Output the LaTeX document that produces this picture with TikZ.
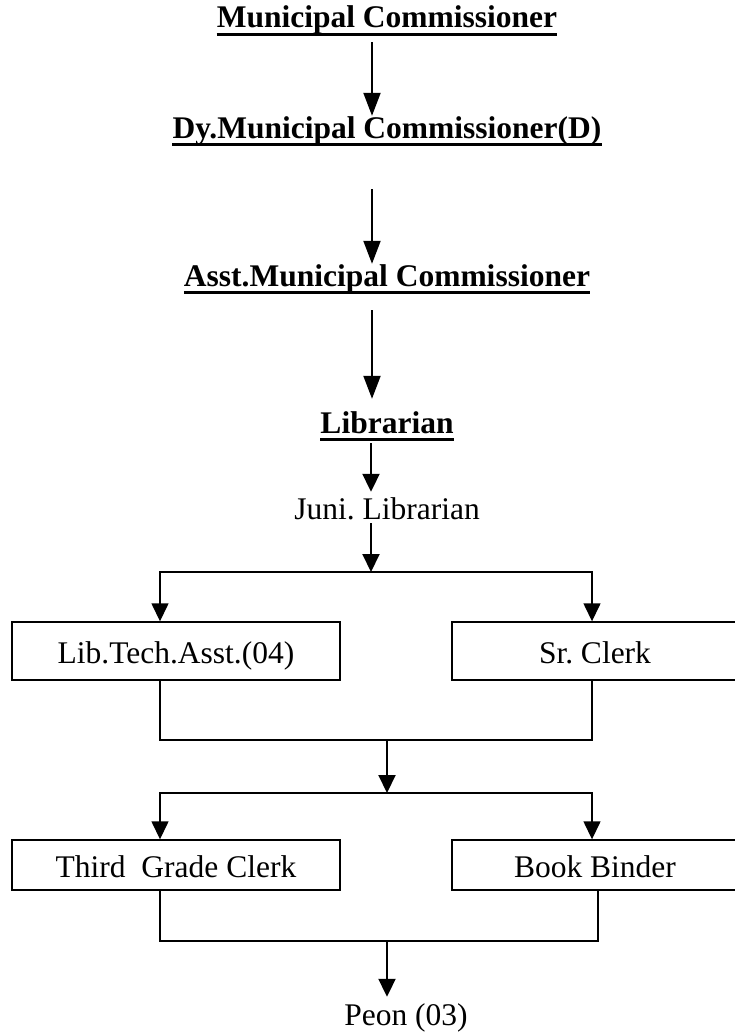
\documentclass[tikz,border=0pt]{standalone}
\usepackage{fontspec}
\setmainfont{Liberation Serif}
\usetikzlibrary{arrows.meta}
\frenchspacing

\tikzset{
  title/.style={font=\fontsize{31.5}{38}\selectfont\bfseries, inner sep=0pt, anchor=base, text height=22pt, text depth=7pt},
  plain/.style={font=\fontsize{31.5}{38}\selectfont, inner sep=0pt, anchor=base, text height=22pt, text depth=7pt},
  post/.style={draw, line width=1.4pt, inner sep=0pt, font=\fontsize{31.5}{38}\selectfont, text height=24pt, text depth=0pt},
  uline/.style={line width=2.6pt},
  link/.style={line width=2pt, -{Triangle[length=23pt,width=17pt]}},
  sublink/.style={line width=2pt, -{Triangle[length=18pt,width=17pt]}},
  rule/.style={line width=1.4pt},
}

\begin{document}
\begin{tikzpicture}[x=1pt, y=-1pt]
       % Sizes
       \pgfmathsetmacro{\wide}{328}
       \pgfmathsetmacro{\narrow}{286}
       \fill[white] (0,0) rectangle (734,1033);
       \useasboundingbox (0,0) rectangle (734,1033);

       % vertices
       \node[title] (mc) at (387,28) {Municipal Commissioner};
       \node[title] (dmc) at (387,138) {Dy.Municipal Commissioner(D)};
       \node[title] (amc) at (387,286) {Asst.Municipal Commissioner};
       \node[title] (lib) at (387,433) {Librarian};
       \node[plain] (jlib) at (387,519) {Juni. Librarian};
       \node[post, minimum width=\wide pt, minimum height=58pt] (lta) at (176,651) {Lib.Tech.Asst.(04)};
       \node[post, minimum width=\narrow pt, minimum height=58pt] (src) at (595,651) {Sr. Clerk};
       \node[post, minimum width=\wide pt, minimum height=50pt] (tgc) at (176,865) {Third\ \ Grade Clerk};
       \node[post, minimum width=\narrow pt, minimum height=50pt] (bb) at (595,865) {Book Binder};
       \node[plain] (peon) at (406,1025) {Peon (03)};
       \coordinate (j1) at (371,572);
       \coordinate (j2) at (387,740);
       \coordinate (j3) at (387,793);
       \coordinate (j4) at (387,941);

       % underlines
       \foreach \n in {mc,dmc,amc,lib}
         \draw[uline] ([yshift=-6.5pt]\n.base west) -- ([yshift=-6.5pt]\n.base east);

       % draw diagram
       \draw[link] ([xshift=-15pt,yshift=-7pt]mc.south) -- ([xshift=-15pt]dmc.north);
       \draw[link] ([xshift=-15pt,yshift=-44pt]dmc.south) -- ([xshift=-15pt]amc.north);
       \draw[link] ([xshift=-15pt,yshift=-17pt]amc.south) -- ([xshift=-15pt,yshift=12pt]lib.north);
       \draw[sublink] ([xshift=-16pt,yshift=-3pt]lib.south) -- ([xshift=-16pt,yshift=5pt]jlib.north);
       \draw[sublink] ([xshift=-16pt,yshift=3pt]jlib.south) -- (j1);
       \draw[rule, {Triangle[length=18pt,width=17pt]}-{Triangle[length=18pt,width=17pt]}]
         ([xshift=-16pt]lta.north) |- (j1) -| ([xshift=-3pt]src.north);
       \draw[rule] ([xshift=-16pt]lta.south) |- (j2) -| ([xshift=-3pt]src.south);
       \draw[sublink] (j2) -- (j3);
       \draw[rule, {Triangle[length=18pt,width=17pt]}-{Triangle[length=18pt,width=17pt]}]
         ([xshift=-16pt]tgc.north) |- (j3) -| ([xshift=-3pt]bb.north);
       \draw[rule] ([xshift=-16pt]tgc.south) |- (j4) -| ([xshift=3pt]bb.south);
       \draw[sublink] (j4) -- ([xshift=-19pt,yshift=6pt]peon.north);
\end{tikzpicture}
\end{document}
